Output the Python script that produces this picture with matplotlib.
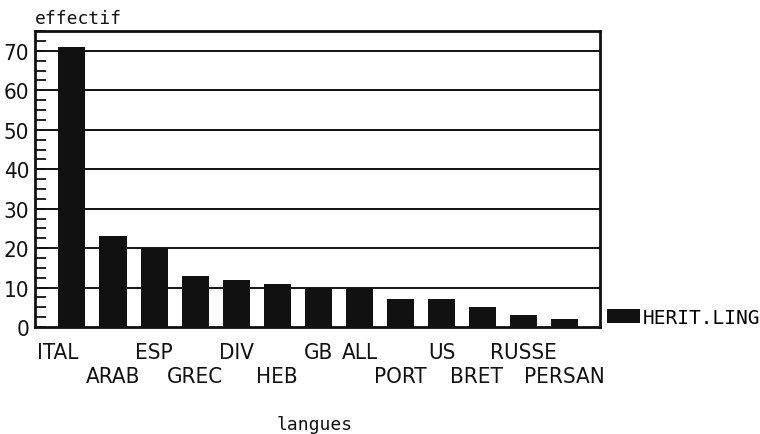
import matplotlib.pyplot as plt
from matplotlib.ticker import MultipleLocator

# langues et effectifs (heritage linguistique)
langues = ['ITAL', 'ARAB', 'ESP', 'GREC', 'DIV', 'HEB', 'GB', 'ALL',
           'PORT', 'US', 'BRET', 'RUSSE', 'PERSAN']
effectif = [71, 23, 20, 13, 12, 11, 10, 10, 7, 7, 5, 3, 2]
# rangee de l'etiquette : 0 = haut, 1 = bas
rangee = [0, 1, 0, 1, 0, 1, 0, 0, 1, 0, 1, 0, 1]

plt.rcParams['font.family'] = ['DejaVu Sans']
plt.rcParams['font.stretch'] = 'condensed'
mono = {'family': 'DejaVu Sans Mono', 'stretch': 'normal'}

fig = plt.figure(figsize=(7.6, 4.35), dpi=100)
ax = fig.add_axes([0.046, 0.246, 0.743, 0.68])

x = list(range(len(langues)))
ax.bar(x, effectif, width=0.66, color='#111111', label='HERIT.LING', zorder=3)

ax.set_xlim(-0.9, 12.85)
ax.set_ylim(0, 75)

# grille horizontale aux dizaines
for v in range(10, 80, 10):
    ax.axhline(v, color='#111111', lw=1.4, zorder=1)

ax.yaxis.set_major_locator(MultipleLocator(10))
ax.yaxis.set_minor_locator(MultipleLocator(2.5))
ax.tick_params(axis='y', which='both', direction='in', length=8, width=1.3,
               labelsize=16, pad=4, colors='#111111')
ax.tick_params(axis='x', bottom=False, labelbottom=False)
for s in ax.spines.values():
    s.set_linewidth(2)
    s.set_color('#111111')

# etiquettes en quinconce
decal = {'ITAL': -0.35, 'BRET': -0.15}
for i, nom in enumerate(langues):
    ax.text(i + decal.get(nom, 0), -3.9 - 6.0 * rangee[i], nom, ha='center',
            va='top', fontsize=16, color='#111111')

ax.text(0, 1.015, 'effectif', transform=ax.transAxes, ha='left', va='bottom',
        fontsize=13, color='#111111', **mono)
fig.text(0.414, 0.011, 'langues', ha='center', va='baseline', fontsize=13,
         color='#111111', **mono)

ax.legend(loc='lower left', bbox_to_anchor=(1.0135, 0.0), frameon=False,
          prop={'family': 'DejaVu Sans Mono', 'size': 14},
          handlelength=1.7, handleheight=0.7, handletextpad=0.1,
          borderaxespad=0.0, borderpad=0.0)

fig.savefig('out.png', dpi=100)
